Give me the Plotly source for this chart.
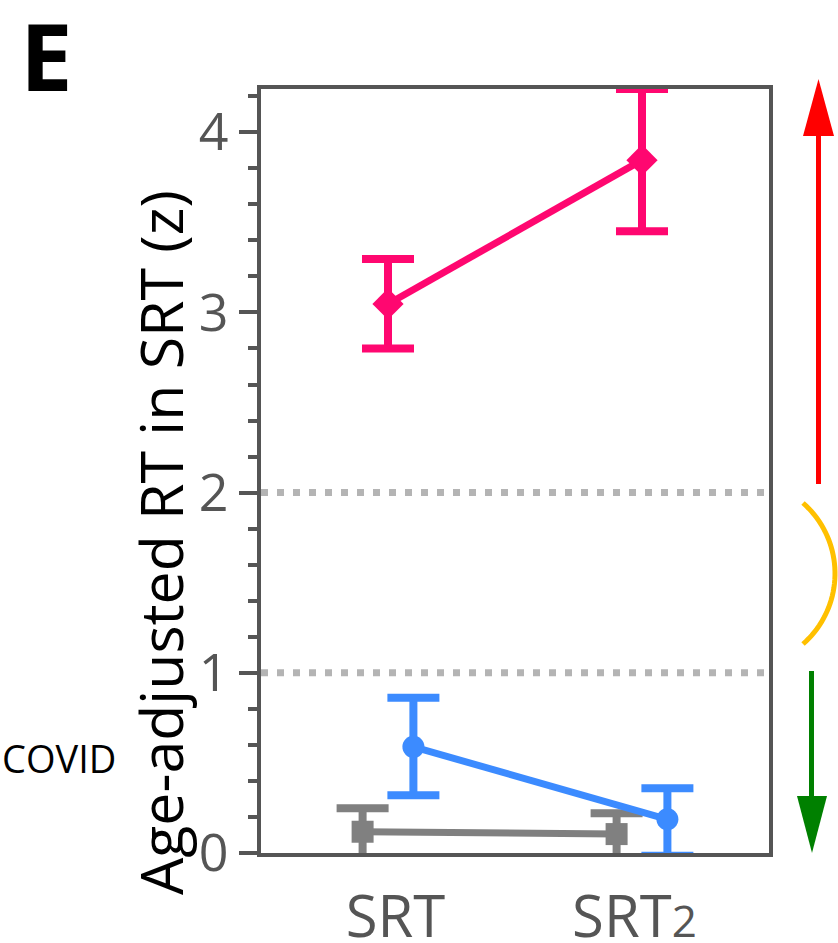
import plotly.graph_objects as go
import numpy as np

# ---------------- data ----------------
conditions = ["SRT", "SRT2"]
cond_labels = ["&nbsp;SRT", "SRT<span style='font-size:44px'>2</span>&nbsp;"]
y_tick_vals = [0, 1, 2, 3, 4]
y_tick_text = ["0", "1", "2", "3", "4"]

gray_mean = [0.118, 0.105]
gray_err_up = [0.130, 0.115]
gray_err_down = [0.153, 0.144]

blue_mean = [0.589, 0.187]
blue_err_up = [0.272, 0.172]
blue_err_down = [0.268, 0.202]

red_mean = [3.047, 3.845]
red_err_up = [0.249, 0.395]
red_err_down = [0.247, 0.395]

threshold_lines = [1, 2]

# ---------------- layout geometry ----------------
W, H = 838, 943
L, R, T, B = 261, 69, 89, 90
PW, PH = W - L - R, H - T - B


def px(x):
    """screen pixel x -> paper x"""
    return (x - L) / PW


def py(y):
    """screen pixel y -> paper y"""
    return (H - B - y) / PH


FONT = "Open Sans"
AXC = "#555555"
RED = "#FF0770"
BLUE = "#3C8BFF"
GRAY = "#808080"

base_x = np.arange(len(conditions), dtype=float)
dodge = 0.1

fig = go.Figure()

series = [
    ("control", gray_mean, gray_err_up, gray_err_down, GRAY, "square", 22, -dodge),
    ("mild", blue_mean, blue_err_up, blue_err_down, BLUE, "circle", 22, dodge),
    ("severe", red_mean, red_err_up, red_err_down, RED, "diamond", 24, 0.0),
]
for name, m, up, dn, col, sym, sz, off in series:
    fig.add_trace(go.Scatter(
        x=base_x + off, y=m, name=name, mode="lines+markers",
        line=dict(color=col, width=7),
        marker=dict(color=col, symbol=sym, size=sz, line=dict(width=0)),
        error_y=dict(type="data", symmetric=False, array=up, arrayminus=dn,
                     color=col, thickness=8, width=26),
        cliponaxis=False, showlegend=False,
    ))

shapes = []
for v in threshold_lines:
    shapes.append(dict(type="line", xref="paper", yref="y", x0=0, x1=1, y0=v, y1=v,
                       line=dict(color="#B4B4B4", width=7, dash="7px,9px"), layer="below"))

# red up-arrow
shapes.append(dict(type="line", xref="paper", yref="paper",
                   x0=px(818.5), x1=px(818.5), y0=py(484), y1=py(130),
                   line=dict(color="#FF0000", width=5)))
shapes.append(dict(type="path", xref="paper", yref="paper",
                   path=f"M {px(803)},{py(136)} L {px(834)},{py(136)} L {px(818.5)},{py(79)} Z",
                   fillcolor="#FF0000", line=dict(width=0)))
# green down-arrow
shapes.append(dict(type="line", xref="paper", yref="paper",
                   x0=px(811.5), x1=px(811.5), y0=py(671), y1=py(802),
                   line=dict(color="#008000", width=5)))
shapes.append(dict(type="path", xref="paper", yref="paper",
                   path=f"M {px(797)},{py(796)} L {px(827)},{py(796)} L {px(812)},{py(853)} Z",
                   fillcolor="#008000", line=dict(width=0)))
# orange arc
cx, cy, rad = 741.3, 573.5, 93.7
ang = np.linspace(-np.arcsin(70.5 / rad), np.arcsin(70.5 / rad), 40)
pts = [(cx + rad * np.cos(a), cy + rad * np.sin(a)) for a in ang]
arc = "M " + " L ".join(f"{px(x):.5f},{py(y):.5f}" for x, y in pts)
shapes.append(dict(type="path", xref="paper", yref="paper", path=arc,
                   line=dict(color="#FFC000", width=5)))

annotations = [
    dict(text="<b>E</b>", xref="paper", yref="paper", x=px(46), y=py(55),
         xanchor="center", yanchor="middle", showarrow=False,
         font=dict(family=FONT, size=94, color="black")),
    dict(text="Age-adjusted RT in SRT (z)", xref="paper", yref="paper",
         x=px(160), y=py(543), xanchor="center", yanchor="middle", textangle=-90,
         showarrow=False, font=dict(family=FONT, size=59, color="black")),
    dict(text="COVID", xref="paper", yref="paper", x=px(0), y=py(758),
         xanchor="left", yanchor="middle", showarrow=False,
         font=dict(family=FONT, size=38, color="black")),
]

fig.update_layout(
    width=W, height=H,
    margin=dict(l=L, r=R, t=T, b=B),
    paper_bgcolor="white", plot_bgcolor="white",
    showlegend=False,
    shapes=shapes, annotations=annotations,
    xaxis=dict(range=[-0.5, 1.5], tickvals=base_x, ticktext=cond_labels,
               automargin=False,
               showgrid=False, zeroline=False, showline=True, linecolor=AXC,
               linewidth=4, mirror=True, ticks="", ticklabelstandoff=10,
               tickfont=dict(family=FONT, size=58, color=AXC)),
    yaxis=dict(range=[0, 4.24], tickvals=y_tick_vals, ticktext=y_tick_text,
               automargin=False,
               showgrid=False, zeroline=False, showline=True, linecolor=AXC,
               linewidth=4, mirror=True, ticks="outside", ticklen=18, tickwidth=4,
               tickcolor=AXC,
               minor=dict(dtick=0.2, tick0=0, ticks="outside", ticklen=9,
                          tickwidth=4, tickcolor=AXC, showgrid=False),
               tickfont=dict(family=FONT, size=52, color=AXC)),
)

fig.write_html(
    "out.html",
    config={"displayModeBar": False},
    post_script="document.body.style.margin='0';document.body.style.overflow='hidden';",
)
